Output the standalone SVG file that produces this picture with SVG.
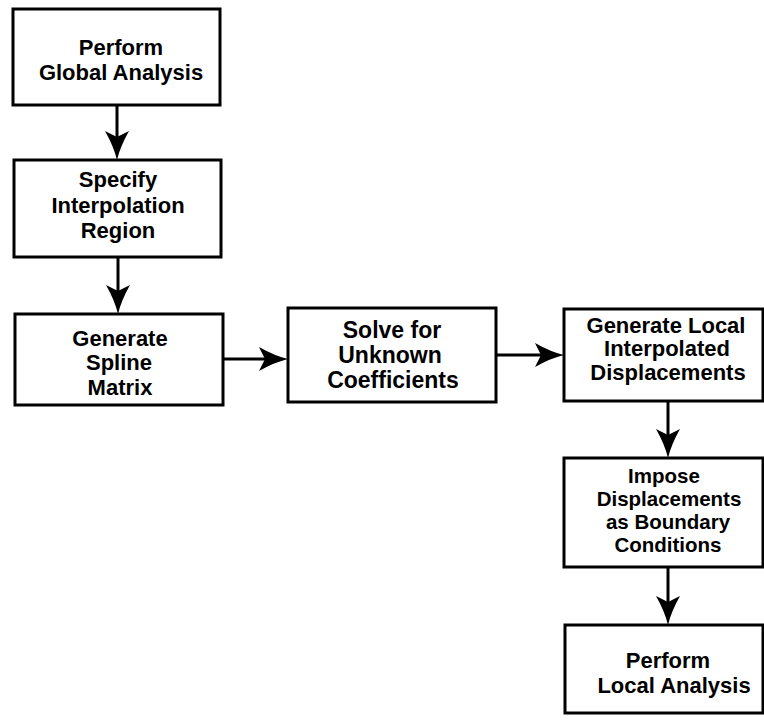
<svg xmlns="http://www.w3.org/2000/svg" width="764" height="721" viewBox="0 0 764 721">
<defs>
<style>
.box{fill:#fff;stroke:#000;stroke-width:3}
.lbl{font-family:"Liberation Sans",Arial,Helvetica,sans-serif;font-weight:bold;font-size:22px;fill:#000;text-anchor:middle}
.sm{font-size:20.5px}
.con{stroke:#000;stroke-width:3;fill:none}
</style>
<marker id="ah" markerUnits="userSpaceOnUse" orient="auto" markerWidth="40" markerHeight="30" refX="0" refY="0" overflow="visible">
<path d="M20,0 Q7,-3 -9,-12 L-3,0 L-9,12 Q7,3 20,0 Z" fill="#000"/>
</marker>
</defs>
<rect width="764" height="721" fill="#fff"/>
<g id="connectors">
<line class="con" x1="117" y1="105" x2="117" y2="140" marker-end="url(#ah)"/>
<line class="con" x1="118" y1="257" x2="118" y2="294" marker-end="url(#ah)"/>
<line class="con" x1="223" y1="359" x2="268" y2="359" marker-end="url(#ah)"/>
<line class="con" x1="496" y1="355" x2="544" y2="355" marker-end="url(#ah)"/>
<line class="con" x1="668" y1="401" x2="668" y2="438" marker-end="url(#ah)"/>
<line class="con" x1="668" y1="567" x2="668" y2="605" marker-end="url(#ah)"/>
</g>
<g id="global-analysis">
<rect class="box" x="13" y="9" width="207" height="96"/>
<text class="lbl" x="121" y="55">Perform</text>
<text class="lbl" x="121" y="80">Global Analysis</text>
</g>
<g id="interpolation-region">
<rect class="box" x="14" y="160" width="207" height="97"/>
<text class="lbl" x="118" y="187">Specify</text>
<text class="lbl" x="118" y="213">Interpolation</text>
<text class="lbl" x="118" y="238">Region</text>
</g>
<g id="spline-matrix">
<rect class="box" x="15" y="314" width="208" height="91"/>
<text class="lbl" x="120" y="346">Generate</text>
<text class="lbl" x="119" y="370">Spline</text>
<text class="lbl" x="120" y="395">Matrix</text>
</g>
<g id="solve-coefficients">
<rect class="box" x="288" y="308" width="208" height="94"/>
<text class="lbl" x="392" y="338" style="font-size:23px">Solve for</text>
<text class="lbl" x="390" y="363" style="font-size:23px">Unknown</text>
<text class="lbl" x="393" y="388" style="font-size:23px">Coefficients</text>
</g>
<g id="local-displacements">
<rect class="box" x="564" y="309" width="199" height="92"/>
<text class="lbl" x="666" y="333">Generate Local</text>
<text class="lbl" x="667" y="356">Interpolated</text>
<text class="lbl" x="668" y="380">Displacements</text>
</g>
<g id="boundary-conditions">
<rect class="box" x="564" y="458" width="199" height="109"/>
<text class="lbl sm" x="664" y="483">Impose</text>
<text class="lbl sm" x="669" y="506">Displacements</text>
<text class="lbl sm" x="668" y="529">as Boundary</text>
<text class="lbl sm" x="668" y="552">Conditions</text>
</g>
<g id="local-analysis">
<rect class="box" x="565" y="625" width="198" height="88"/>
<text class="lbl" x="668" y="668">Perform</text>
<text class="lbl" x="674" y="693">Local Analysis</text>
</g>
</svg>
